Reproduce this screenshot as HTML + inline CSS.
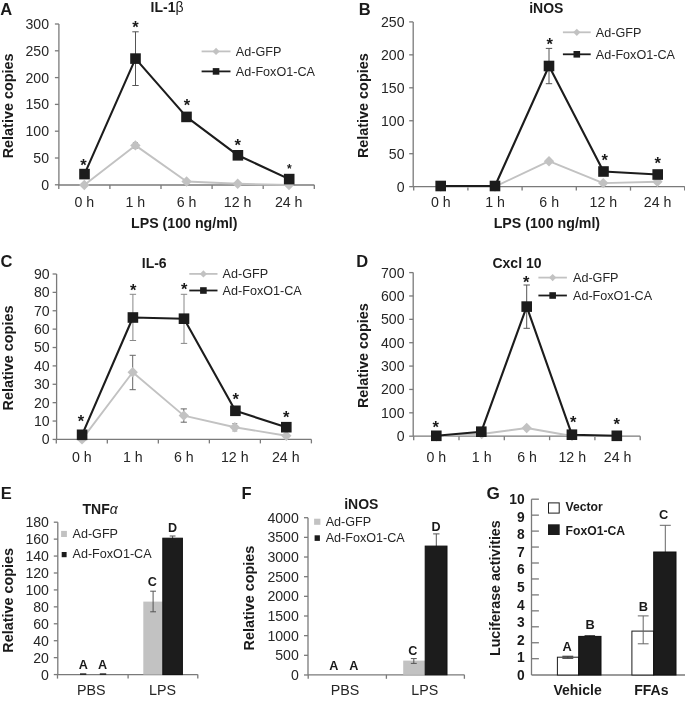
<!DOCTYPE html>
<html><head><meta charset="utf-8"><style>
html,body{margin:0;padding:0;background:#fff;}
svg{display:block;font-family:"Liberation Sans", sans-serif;will-change:transform;}
</style></head><body>
<svg width="685" height="706" viewBox="0 0 685 706">
<rect x="0" y="0" width="685" height="706" fill="#fff"/>
<text x="0.20" y="14.90" font-size="16.5" font-weight="bold" text-anchor="start" fill="#1a1a1a" >A</text>
<line x1="58.90" y1="24.00" x2="58.90" y2="185.00" stroke="#7a7a7a" stroke-width="1.3" />
<line x1="54.90" y1="24.00" x2="58.90" y2="24.00" stroke="#7a7a7a" stroke-width="1.3" />
<line x1="54.90" y1="50.80" x2="58.90" y2="50.80" stroke="#7a7a7a" stroke-width="1.3" />
<line x1="54.90" y1="77.60" x2="58.90" y2="77.60" stroke="#7a7a7a" stroke-width="1.3" />
<line x1="54.90" y1="104.40" x2="58.90" y2="104.40" stroke="#7a7a7a" stroke-width="1.3" />
<line x1="54.90" y1="131.20" x2="58.90" y2="131.20" stroke="#7a7a7a" stroke-width="1.3" />
<line x1="54.90" y1="158.00" x2="58.90" y2="158.00" stroke="#7a7a7a" stroke-width="1.3" />
<line x1="54.90" y1="184.80" x2="58.90" y2="184.80" stroke="#7a7a7a" stroke-width="1.3" />
<line x1="58.90" y1="185.00" x2="314.40" y2="185.00" stroke="#7a7a7a" stroke-width="1.3" />
<line x1="58.80" y1="185.00" x2="58.80" y2="189.00" stroke="#7a7a7a" stroke-width="1.3" />
<line x1="109.90" y1="185.00" x2="109.90" y2="189.00" stroke="#7a7a7a" stroke-width="1.3" />
<line x1="161.00" y1="185.00" x2="161.00" y2="189.00" stroke="#7a7a7a" stroke-width="1.3" />
<line x1="212.10" y1="185.00" x2="212.10" y2="189.00" stroke="#7a7a7a" stroke-width="1.3" />
<line x1="263.20" y1="185.00" x2="263.20" y2="189.00" stroke="#7a7a7a" stroke-width="1.3" />
<line x1="314.30" y1="185.00" x2="314.30" y2="189.00" stroke="#7a7a7a" stroke-width="1.3" />
<text x="49.00" y="28.96" font-size="14.1" font-weight="normal" text-anchor="end" fill="#262626" >300</text>
<text x="49.00" y="55.76" font-size="14.1" font-weight="normal" text-anchor="end" fill="#262626" >250</text>
<text x="49.00" y="82.56" font-size="14.1" font-weight="normal" text-anchor="end" fill="#262626" >200</text>
<text x="49.00" y="109.36" font-size="14.1" font-weight="normal" text-anchor="end" fill="#262626" >150</text>
<text x="49.00" y="136.16" font-size="14.1" font-weight="normal" text-anchor="end" fill="#262626" >100</text>
<text x="49.00" y="162.96" font-size="14.1" font-weight="normal" text-anchor="end" fill="#262626" >50</text>
<text x="49.00" y="189.76" font-size="14.1" font-weight="normal" text-anchor="end" fill="#262626" >0</text>
<text x="84.30" y="207.00" font-size="14.2" font-weight="normal" text-anchor="middle" fill="#262626" >0 h</text>
<text x="135.40" y="207.00" font-size="14.2" font-weight="normal" text-anchor="middle" fill="#262626" >1 h</text>
<text x="186.50" y="207.00" font-size="14.2" font-weight="normal" text-anchor="middle" fill="#262626" >6 h</text>
<text x="237.60" y="207.00" font-size="14.2" font-weight="normal" text-anchor="middle" fill="#262626" >12 h</text>
<text x="288.70" y="207.00" font-size="14.2" font-weight="normal" text-anchor="middle" fill="#262626" >24 h</text>
<text x="184.30" y="228.00" font-size="14.2" font-weight="bold" text-anchor="middle" fill="#1a1a1a" >LPS (100 ng/ml)</text>
<text x="167.10" y="12.30" font-size="14" font-weight="bold" text-anchor="middle" fill="#1a1a1a" >IL-1<tspan font-weight="normal">β</tspan></text>
<text x="0" y="0" font-size="14.4" font-weight="bold" text-anchor="middle" fill="#1a1a1a" transform="translate(13.20,105.90) rotate(-90)">Relative copies</text>
<path d="M84.30 185.00 L135.40 145.40 L186.60 181.50 L237.70 183.80 L289.00 185.00" fill="none" stroke="#c2c2c2" stroke-width="1.9" stroke-linejoin="round"/>
<line x1="135.40" y1="142.50" x2="135.40" y2="148.30" stroke="#999" stroke-width="1" />
<line x1="132.90" y1="142.50" x2="137.90" y2="142.50" stroke="#999" stroke-width="1" />
<line x1="132.90" y1="148.30" x2="137.90" y2="148.30" stroke="#999" stroke-width="1" />
<path d="M84.30 179.80 L89.50 185.00 L84.30 190.20 L79.10 185.00Z" fill="#c2c2c2"/>
<path d="M135.40 140.20 L140.60 145.40 L135.40 150.60 L130.20 145.40Z" fill="#c2c2c2"/>
<path d="M186.60 176.30 L191.80 181.50 L186.60 186.70 L181.40 181.50Z" fill="#c2c2c2"/>
<path d="M237.70 178.60 L242.90 183.80 L237.70 189.00 L232.50 183.80Z" fill="#c2c2c2"/>
<path d="M289.00 179.80 L294.20 185.00 L289.00 190.20 L283.80 185.00Z" fill="#c2c2c2"/>
<line x1="135.50" y1="31.80" x2="135.50" y2="85.50" stroke="#555555" stroke-width="1" />
<line x1="132.30" y1="31.80" x2="138.70" y2="31.80" stroke="#555555" stroke-width="1" />
<line x1="132.30" y1="85.50" x2="138.70" y2="85.50" stroke="#555555" stroke-width="1" />
<line x1="186.50" y1="113.60" x2="186.50" y2="120.20" stroke="#555555" stroke-width="1" />
<line x1="183.75" y1="113.60" x2="189.25" y2="113.60" stroke="#555555" stroke-width="1" />
<line x1="183.75" y1="120.20" x2="189.25" y2="120.20" stroke="#555555" stroke-width="1" />
<path d="M84.50 174.10 L135.50 58.60 L186.50 116.90 L237.90 155.30 L289.20 179.10" fill="none" stroke="#1c1c1c" stroke-width="2.1" stroke-linejoin="round"/>
<rect x="79.20" y="168.80" width="10.60" height="10.60" fill="#1c1c1c" />
<rect x="130.20" y="53.30" width="10.60" height="10.60" fill="#1c1c1c" />
<rect x="181.20" y="111.60" width="10.60" height="10.60" fill="#1c1c1c" />
<rect x="232.60" y="150.00" width="10.60" height="10.60" fill="#1c1c1c" />
<rect x="283.90" y="173.80" width="10.60" height="10.60" fill="#1c1c1c" />
<text x="83.50" y="171.25" font-size="16.5" font-weight="bold" text-anchor="middle" fill="#1a1a1a" >*</text>
<text x="135.50" y="33.15" font-size="16.5" font-weight="bold" text-anchor="middle" fill="#1a1a1a" >*</text>
<text x="187.00" y="111.35" font-size="16.5" font-weight="bold" text-anchor="middle" fill="#1a1a1a" >*</text>
<text x="237.70" y="150.85" font-size="16.5" font-weight="bold" text-anchor="middle" fill="#1a1a1a" >*</text>
<text x="289.30" y="173.40" font-size="12" font-weight="bold" text-anchor="middle" fill="#1a1a1a" >*</text>
<line x1="201.60" y1="51.40" x2="230.50" y2="51.40" stroke="#c2c2c2" stroke-width="1.8" />
<path d="M216.05 47.80 L219.65 51.40 L216.05 55.00 L212.45 51.40Z" fill="#c2c2c2"/>
<text x="235.80" y="55.80" font-size="12.6" font-weight="normal" text-anchor="start" fill="#262626" >Ad-GFP</text>
<line x1="201.60" y1="71.40" x2="230.50" y2="71.40" stroke="#1c1c1c" stroke-width="1.8" />
<rect x="212.75" y="68.10" width="6.60" height="6.60" fill="#1c1c1c" />
<text x="235.80" y="75.80" font-size="12.6" font-weight="normal" text-anchor="start" fill="#262626" >Ad-FoxO1-CA</text>
<text x="358.80" y="14.90" font-size="16.5" font-weight="bold" text-anchor="start" fill="#1a1a1a" >B</text>
<line x1="413.20" y1="21.90" x2="413.20" y2="186.60" stroke="#7a7a7a" stroke-width="1.3" />
<line x1="409.20" y1="21.90" x2="413.20" y2="21.90" stroke="#7a7a7a" stroke-width="1.3" />
<line x1="409.20" y1="54.85" x2="413.20" y2="54.85" stroke="#7a7a7a" stroke-width="1.3" />
<line x1="409.20" y1="87.80" x2="413.20" y2="87.80" stroke="#7a7a7a" stroke-width="1.3" />
<line x1="409.20" y1="120.75" x2="413.20" y2="120.75" stroke="#7a7a7a" stroke-width="1.3" />
<line x1="409.20" y1="153.70" x2="413.20" y2="153.70" stroke="#7a7a7a" stroke-width="1.3" />
<line x1="409.20" y1="186.65" x2="413.20" y2="186.65" stroke="#7a7a7a" stroke-width="1.3" />
<line x1="413.20" y1="186.60" x2="684.70" y2="186.60" stroke="#7a7a7a" stroke-width="1.3" />
<line x1="413.70" y1="186.60" x2="413.70" y2="190.60" stroke="#7a7a7a" stroke-width="1.3" />
<line x1="467.90" y1="186.60" x2="467.90" y2="190.60" stroke="#7a7a7a" stroke-width="1.3" />
<line x1="522.10" y1="186.60" x2="522.10" y2="190.60" stroke="#7a7a7a" stroke-width="1.3" />
<line x1="576.30" y1="186.60" x2="576.30" y2="190.60" stroke="#7a7a7a" stroke-width="1.3" />
<line x1="630.50" y1="186.60" x2="630.50" y2="190.60" stroke="#7a7a7a" stroke-width="1.3" />
<line x1="684.70" y1="186.60" x2="684.70" y2="190.60" stroke="#7a7a7a" stroke-width="1.3" />
<text x="404.50" y="26.86" font-size="14.1" font-weight="normal" text-anchor="end" fill="#262626" >250</text>
<text x="404.50" y="59.81" font-size="14.1" font-weight="normal" text-anchor="end" fill="#262626" >200</text>
<text x="404.50" y="92.76" font-size="14.1" font-weight="normal" text-anchor="end" fill="#262626" >150</text>
<text x="404.50" y="125.71" font-size="14.1" font-weight="normal" text-anchor="end" fill="#262626" >100</text>
<text x="404.50" y="158.66" font-size="14.1" font-weight="normal" text-anchor="end" fill="#262626" >50</text>
<text x="404.50" y="191.61" font-size="14.1" font-weight="normal" text-anchor="end" fill="#262626" >0</text>
<text x="440.80" y="207.00" font-size="14.2" font-weight="normal" text-anchor="middle" fill="#262626" >0 h</text>
<text x="495.00" y="207.00" font-size="14.2" font-weight="normal" text-anchor="middle" fill="#262626" >1 h</text>
<text x="549.20" y="207.00" font-size="14.2" font-weight="normal" text-anchor="middle" fill="#262626" >6 h</text>
<text x="603.40" y="207.00" font-size="14.2" font-weight="normal" text-anchor="middle" fill="#262626" >12 h</text>
<text x="657.60" y="207.00" font-size="14.2" font-weight="normal" text-anchor="middle" fill="#262626" >24 h</text>
<text x="546.90" y="228.00" font-size="14.2" font-weight="bold" text-anchor="middle" fill="#1a1a1a" >LPS (100 ng/ml)</text>
<text x="546.30" y="12.60" font-size="14" font-weight="bold" text-anchor="middle" fill="#1a1a1a" >iNOS</text>
<text x="0" y="0" font-size="14.4" font-weight="bold" text-anchor="middle" fill="#1a1a1a" transform="translate(367.60,105.70) rotate(-90)">Relative copies</text>
<path d="M440.80 186.60 L495.00 186.60 L549.00 161.20 L603.20 183.10 L657.40 181.70" fill="none" stroke="#c2c2c2" stroke-width="1.9" stroke-linejoin="round"/>
<path d="M440.80 181.40 L446.00 186.60 L440.80 191.80 L435.60 186.60Z" fill="#c2c2c2"/>
<path d="M495.00 181.40 L500.20 186.60 L495.00 191.80 L489.80 186.60Z" fill="#c2c2c2"/>
<path d="M549.00 156.00 L554.20 161.20 L549.00 166.40 L543.80 161.20Z" fill="#c2c2c2"/>
<path d="M603.20 177.90 L608.40 183.10 L603.20 188.30 L598.00 183.10Z" fill="#c2c2c2"/>
<path d="M657.40 176.50 L662.60 181.70 L657.40 186.90 L652.20 181.70Z" fill="#c2c2c2"/>
<line x1="549.00" y1="48.40" x2="549.00" y2="83.70" stroke="#555555" stroke-width="1" />
<line x1="545.80" y1="48.40" x2="552.20" y2="48.40" stroke="#555555" stroke-width="1" />
<line x1="545.80" y1="83.70" x2="552.20" y2="83.70" stroke="#555555" stroke-width="1" />
<path d="M440.70 186.00 L495.00 186.00 L549.00 66.00 L603.50 171.50 L657.70 174.50" fill="none" stroke="#1c1c1c" stroke-width="2.1" stroke-linejoin="round"/>
<rect x="435.40" y="180.70" width="10.60" height="10.60" fill="#1c1c1c" />
<rect x="489.70" y="180.70" width="10.60" height="10.60" fill="#1c1c1c" />
<rect x="543.70" y="60.70" width="10.60" height="10.60" fill="#1c1c1c" />
<rect x="598.20" y="166.20" width="10.60" height="10.60" fill="#1c1c1c" />
<rect x="652.40" y="169.20" width="10.60" height="10.60" fill="#1c1c1c" />
<text x="549.60" y="49.65" font-size="16.5" font-weight="bold" text-anchor="middle" fill="#1a1a1a" >*</text>
<text x="604.70" y="166.05" font-size="16.5" font-weight="bold" text-anchor="middle" fill="#1a1a1a" >*</text>
<text x="657.80" y="169.45" font-size="16.5" font-weight="bold" text-anchor="middle" fill="#1a1a1a" >*</text>
<line x1="562.90" y1="32.30" x2="590.70" y2="32.30" stroke="#c2c2c2" stroke-width="1.8" />
<path d="M576.80 28.70 L580.40 32.30 L576.80 35.90 L573.20 32.30Z" fill="#c2c2c2"/>
<text x="595.80" y="36.70" font-size="12.6" font-weight="normal" text-anchor="start" fill="#262626" >Ad-GFP</text>
<line x1="562.90" y1="54.30" x2="590.70" y2="54.30" stroke="#1c1c1c" stroke-width="1.8" />
<rect x="573.50" y="51.00" width="6.60" height="6.60" fill="#1c1c1c" />
<text x="595.80" y="58.70" font-size="12.6" font-weight="normal" text-anchor="start" fill="#262626" >Ad-FoxO1-CA</text>
<text x="0.50" y="266.60" font-size="16.5" font-weight="bold" text-anchor="start" fill="#1a1a1a" >C</text>
<line x1="56.60" y1="274.00" x2="56.60" y2="439.40" stroke="#7a7a7a" stroke-width="1.3" />
<line x1="52.60" y1="274.00" x2="56.60" y2="274.00" stroke="#7a7a7a" stroke-width="1.3" />
<line x1="52.60" y1="292.38" x2="56.60" y2="292.38" stroke="#7a7a7a" stroke-width="1.3" />
<line x1="52.60" y1="310.76" x2="56.60" y2="310.76" stroke="#7a7a7a" stroke-width="1.3" />
<line x1="52.60" y1="329.14" x2="56.60" y2="329.14" stroke="#7a7a7a" stroke-width="1.3" />
<line x1="52.60" y1="347.52" x2="56.60" y2="347.52" stroke="#7a7a7a" stroke-width="1.3" />
<line x1="52.60" y1="365.90" x2="56.60" y2="365.90" stroke="#7a7a7a" stroke-width="1.3" />
<line x1="52.60" y1="384.28" x2="56.60" y2="384.28" stroke="#7a7a7a" stroke-width="1.3" />
<line x1="52.60" y1="402.66" x2="56.60" y2="402.66" stroke="#7a7a7a" stroke-width="1.3" />
<line x1="52.60" y1="421.04" x2="56.60" y2="421.04" stroke="#7a7a7a" stroke-width="1.3" />
<line x1="52.60" y1="439.42" x2="56.60" y2="439.42" stroke="#7a7a7a" stroke-width="1.3" />
<line x1="56.30" y1="439.40" x2="311.40" y2="439.40" stroke="#7a7a7a" stroke-width="1.3" />
<line x1="56.30" y1="439.40" x2="56.30" y2="443.40" stroke="#7a7a7a" stroke-width="1.3" />
<line x1="107.32" y1="439.40" x2="107.32" y2="443.40" stroke="#7a7a7a" stroke-width="1.3" />
<line x1="158.34" y1="439.40" x2="158.34" y2="443.40" stroke="#7a7a7a" stroke-width="1.3" />
<line x1="209.36" y1="439.40" x2="209.36" y2="443.40" stroke="#7a7a7a" stroke-width="1.3" />
<line x1="260.38" y1="439.40" x2="260.38" y2="443.40" stroke="#7a7a7a" stroke-width="1.3" />
<line x1="311.40" y1="439.40" x2="311.40" y2="443.40" stroke="#7a7a7a" stroke-width="1.3" />
<text x="49.60" y="278.96" font-size="14.1" font-weight="normal" text-anchor="end" fill="#262626" >90</text>
<text x="49.60" y="297.34" font-size="14.1" font-weight="normal" text-anchor="end" fill="#262626" >80</text>
<text x="49.60" y="315.72" font-size="14.1" font-weight="normal" text-anchor="end" fill="#262626" >70</text>
<text x="49.60" y="334.10" font-size="14.1" font-weight="normal" text-anchor="end" fill="#262626" >60</text>
<text x="49.60" y="352.48" font-size="14.1" font-weight="normal" text-anchor="end" fill="#262626" >50</text>
<text x="49.60" y="370.86" font-size="14.1" font-weight="normal" text-anchor="end" fill="#262626" >40</text>
<text x="49.60" y="389.24" font-size="14.1" font-weight="normal" text-anchor="end" fill="#262626" >30</text>
<text x="49.60" y="407.62" font-size="14.1" font-weight="normal" text-anchor="end" fill="#262626" >20</text>
<text x="49.60" y="426.00" font-size="14.1" font-weight="normal" text-anchor="end" fill="#262626" >10</text>
<text x="49.60" y="444.38" font-size="14.1" font-weight="normal" text-anchor="end" fill="#262626" >0</text>
<text x="81.80" y="462.20" font-size="14.2" font-weight="normal" text-anchor="middle" fill="#262626" >0 h</text>
<text x="132.80" y="462.20" font-size="14.2" font-weight="normal" text-anchor="middle" fill="#262626" >1 h</text>
<text x="183.80" y="462.20" font-size="14.2" font-weight="normal" text-anchor="middle" fill="#262626" >6 h</text>
<text x="234.80" y="462.20" font-size="14.2" font-weight="normal" text-anchor="middle" fill="#262626" >12 h</text>
<text x="285.80" y="462.20" font-size="14.2" font-weight="normal" text-anchor="middle" fill="#262626" >24 h</text>
<text x="154.20" y="267.80" font-size="14" font-weight="bold" text-anchor="middle" fill="#1a1a1a" >IL-6</text>
<text x="0" y="0" font-size="14.4" font-weight="bold" text-anchor="middle" fill="#1a1a1a" transform="translate(13.30,358.00) rotate(-90)">Relative copies</text>
<line x1="132.70" y1="355.30" x2="132.70" y2="389.70" stroke="#666" stroke-width="1" />
<line x1="129.60" y1="355.30" x2="135.80" y2="355.30" stroke="#666" stroke-width="1" />
<line x1="129.60" y1="389.70" x2="135.80" y2="389.70" stroke="#666" stroke-width="1" />
<line x1="183.80" y1="408.90" x2="183.80" y2="422.20" stroke="#666" stroke-width="1" />
<line x1="180.70" y1="408.90" x2="186.90" y2="408.90" stroke="#666" stroke-width="1" />
<line x1="180.70" y1="422.20" x2="186.90" y2="422.20" stroke="#666" stroke-width="1" />
<line x1="234.80" y1="423.50" x2="234.80" y2="431.00" stroke="#999" stroke-width="1" />
<line x1="232.30" y1="423.50" x2="237.30" y2="423.50" stroke="#999" stroke-width="1" />
<line x1="232.30" y1="431.00" x2="237.30" y2="431.00" stroke="#999" stroke-width="1" />
<path d="M82.00 439.40 L132.70 372.30 L183.80 415.60 L234.80 427.20 L286.30 435.80" fill="none" stroke="#c2c2c2" stroke-width="1.9" stroke-linejoin="round"/>
<path d="M82.00 434.20 L87.20 439.40 L82.00 444.60 L76.80 439.40Z" fill="#c2c2c2"/>
<path d="M132.70 367.10 L137.90 372.30 L132.70 377.50 L127.50 372.30Z" fill="#c2c2c2"/>
<path d="M183.80 410.40 L189.00 415.60 L183.80 420.80 L178.60 415.60Z" fill="#c2c2c2"/>
<path d="M234.80 422.00 L240.00 427.20 L234.80 432.40 L229.60 427.20Z" fill="#c2c2c2"/>
<path d="M286.30 430.60 L291.50 435.80 L286.30 441.00 L281.10 435.80Z" fill="#c2c2c2"/>
<line x1="132.90" y1="294.30" x2="132.90" y2="340.50" stroke="#888" stroke-width="1" />
<line x1="129.70" y1="294.30" x2="136.10" y2="294.30" stroke="#888" stroke-width="1" />
<line x1="129.70" y1="340.50" x2="136.10" y2="340.50" stroke="#888" stroke-width="1" />
<line x1="184.00" y1="294.30" x2="184.00" y2="343.40" stroke="#888" stroke-width="1" />
<line x1="180.80" y1="294.30" x2="187.20" y2="294.30" stroke="#888" stroke-width="1" />
<line x1="180.80" y1="343.40" x2="187.20" y2="343.40" stroke="#888" stroke-width="1" />
<path d="M82.10 434.80 L132.90 317.50 L184.00 318.70 L235.40 410.80 L286.30 427.20" fill="none" stroke="#1c1c1c" stroke-width="2.1" stroke-linejoin="round"/>
<rect x="76.80" y="429.50" width="10.60" height="10.60" fill="#1c1c1c" />
<rect x="127.60" y="312.20" width="10.60" height="10.60" fill="#1c1c1c" />
<rect x="178.70" y="313.40" width="10.60" height="10.60" fill="#1c1c1c" />
<rect x="230.10" y="405.50" width="10.60" height="10.60" fill="#1c1c1c" />
<rect x="281.00" y="421.90" width="10.60" height="10.60" fill="#1c1c1c" />
<text x="80.90" y="427.05" font-size="16.5" font-weight="bold" text-anchor="middle" fill="#1a1a1a" >*</text>
<text x="133.30" y="295.65" font-size="16.5" font-weight="bold" text-anchor="middle" fill="#1a1a1a" >*</text>
<text x="184.20" y="295.05" font-size="16.5" font-weight="bold" text-anchor="middle" fill="#1a1a1a" >*</text>
<text x="235.70" y="405.05" font-size="16.5" font-weight="bold" text-anchor="middle" fill="#1a1a1a" >*</text>
<text x="286.30" y="422.55" font-size="16.5" font-weight="bold" text-anchor="middle" fill="#1a1a1a" >*</text>
<line x1="189.30" y1="273.90" x2="217.50" y2="273.90" stroke="#c2c2c2" stroke-width="1.8" />
<path d="M203.40 270.30 L207.00 273.90 L203.40 277.50 L199.80 273.90Z" fill="#c2c2c2"/>
<text x="222.60" y="278.30" font-size="12.6" font-weight="normal" text-anchor="start" fill="#262626" >Ad-GFP</text>
<line x1="189.30" y1="290.50" x2="217.50" y2="290.50" stroke="#1c1c1c" stroke-width="1.8" />
<rect x="200.10" y="287.20" width="6.60" height="6.60" fill="#1c1c1c" />
<text x="222.60" y="294.90" font-size="12.6" font-weight="normal" text-anchor="start" fill="#262626" >Ad-FoxO1-CA</text>
<text x="356.20" y="266.50" font-size="16.5" font-weight="bold" text-anchor="start" fill="#1a1a1a" >D</text>
<line x1="413.20" y1="272.60" x2="413.20" y2="436.20" stroke="#7a7a7a" stroke-width="1.3" />
<line x1="409.20" y1="272.60" x2="413.20" y2="272.60" stroke="#7a7a7a" stroke-width="1.3" />
<line x1="409.20" y1="295.97" x2="413.20" y2="295.97" stroke="#7a7a7a" stroke-width="1.3" />
<line x1="409.20" y1="319.34" x2="413.20" y2="319.34" stroke="#7a7a7a" stroke-width="1.3" />
<line x1="409.20" y1="342.71" x2="413.20" y2="342.71" stroke="#7a7a7a" stroke-width="1.3" />
<line x1="409.20" y1="366.08" x2="413.20" y2="366.08" stroke="#7a7a7a" stroke-width="1.3" />
<line x1="409.20" y1="389.45" x2="413.20" y2="389.45" stroke="#7a7a7a" stroke-width="1.3" />
<line x1="409.20" y1="412.82" x2="413.20" y2="412.82" stroke="#7a7a7a" stroke-width="1.3" />
<line x1="409.20" y1="436.19" x2="413.20" y2="436.19" stroke="#7a7a7a" stroke-width="1.3" />
<line x1="413.20" y1="436.20" x2="640.20" y2="436.20" stroke="#7a7a7a" stroke-width="1.3" />
<line x1="413.70" y1="436.20" x2="413.70" y2="440.20" stroke="#7a7a7a" stroke-width="1.3" />
<line x1="459.00" y1="436.20" x2="459.00" y2="440.20" stroke="#7a7a7a" stroke-width="1.3" />
<line x1="504.30" y1="436.20" x2="504.30" y2="440.20" stroke="#7a7a7a" stroke-width="1.3" />
<line x1="549.60" y1="436.20" x2="549.60" y2="440.20" stroke="#7a7a7a" stroke-width="1.3" />
<line x1="594.90" y1="436.20" x2="594.90" y2="440.20" stroke="#7a7a7a" stroke-width="1.3" />
<line x1="640.20" y1="436.20" x2="640.20" y2="440.20" stroke="#7a7a7a" stroke-width="1.3" />
<text x="404.50" y="277.56" font-size="14.1" font-weight="normal" text-anchor="end" fill="#262626" >700</text>
<text x="404.50" y="300.93" font-size="14.1" font-weight="normal" text-anchor="end" fill="#262626" >600</text>
<text x="404.50" y="324.30" font-size="14.1" font-weight="normal" text-anchor="end" fill="#262626" >500</text>
<text x="404.50" y="347.67" font-size="14.1" font-weight="normal" text-anchor="end" fill="#262626" >400</text>
<text x="404.50" y="371.04" font-size="14.1" font-weight="normal" text-anchor="end" fill="#262626" >300</text>
<text x="404.50" y="394.41" font-size="14.1" font-weight="normal" text-anchor="end" fill="#262626" >200</text>
<text x="404.50" y="417.78" font-size="14.1" font-weight="normal" text-anchor="end" fill="#262626" >100</text>
<text x="404.50" y="441.15" font-size="14.1" font-weight="normal" text-anchor="end" fill="#262626" >0</text>
<text x="436.40" y="462.20" font-size="14.2" font-weight="normal" text-anchor="middle" fill="#262626" >0 h</text>
<text x="481.70" y="462.20" font-size="14.2" font-weight="normal" text-anchor="middle" fill="#262626" >1 h</text>
<text x="527.00" y="462.20" font-size="14.2" font-weight="normal" text-anchor="middle" fill="#262626" >6 h</text>
<text x="572.30" y="462.20" font-size="14.2" font-weight="normal" text-anchor="middle" fill="#262626" >12 h</text>
<text x="617.60" y="462.20" font-size="14.2" font-weight="normal" text-anchor="middle" fill="#262626" >24 h</text>
<text x="517.00" y="268.00" font-size="14" font-weight="bold" text-anchor="middle" fill="#1a1a1a" >Cxcl 10</text>
<text x="0" y="0" font-size="14.4" font-weight="bold" text-anchor="middle" fill="#1a1a1a" transform="translate(367.60,355.70) rotate(-90)">Relative copies</text>
<path d="M436.40 436.20 L481.70 434.00 L526.70 428.00 L572.00 436.00 L617.00 436.00" fill="none" stroke="#c2c2c2" stroke-width="1.9" stroke-linejoin="round"/>
<path d="M436.40 431.00 L441.60 436.20 L436.40 441.40 L431.20 436.20Z" fill="#c2c2c2"/>
<path d="M481.70 428.80 L486.90 434.00 L481.70 439.20 L476.50 434.00Z" fill="#c2c2c2"/>
<path d="M526.70 422.80 L531.90 428.00 L526.70 433.20 L521.50 428.00Z" fill="#c2c2c2"/>
<path d="M572.00 430.80 L577.20 436.00 L572.00 441.20 L566.80 436.00Z" fill="#c2c2c2"/>
<path d="M617.00 430.80 L622.20 436.00 L617.00 441.20 L611.80 436.00Z" fill="#c2c2c2"/>
<line x1="526.70" y1="285.00" x2="526.70" y2="328.30" stroke="#555555" stroke-width="1" />
<line x1="523.50" y1="285.00" x2="529.90" y2="285.00" stroke="#555555" stroke-width="1" />
<line x1="523.50" y1="328.30" x2="529.90" y2="328.30" stroke="#555555" stroke-width="1" />
<path d="M436.30 435.80 L481.30 431.70 L526.70 306.60 L571.90 434.70 L616.80 435.80" fill="none" stroke="#1c1c1c" stroke-width="2.1" stroke-linejoin="round"/>
<rect x="431.00" y="430.50" width="10.60" height="10.60" fill="#1c1c1c" />
<rect x="476.00" y="426.40" width="10.60" height="10.60" fill="#1c1c1c" />
<rect x="521.40" y="301.30" width="10.60" height="10.60" fill="#1c1c1c" />
<rect x="566.60" y="429.40" width="10.60" height="10.60" fill="#1c1c1c" />
<rect x="611.50" y="430.50" width="10.60" height="10.60" fill="#1c1c1c" />
<text x="435.80" y="432.75" font-size="16.5" font-weight="bold" text-anchor="middle" fill="#1a1a1a" >*</text>
<text x="526.30" y="287.95" font-size="16.5" font-weight="bold" text-anchor="middle" fill="#1a1a1a" >*</text>
<text x="573.10" y="428.05" font-size="16.5" font-weight="bold" text-anchor="middle" fill="#1a1a1a" >*</text>
<text x="616.60" y="430.25" font-size="16.5" font-weight="bold" text-anchor="middle" fill="#1a1a1a" >*</text>
<line x1="538.40" y1="277.60" x2="566.90" y2="277.60" stroke="#c2c2c2" stroke-width="1.8" />
<path d="M552.65 274.00 L556.25 277.60 L552.65 281.20 L549.05 277.60Z" fill="#c2c2c2"/>
<text x="573.00" y="282.00" font-size="12.6" font-weight="normal" text-anchor="start" fill="#262626" >Ad-GFP</text>
<line x1="538.40" y1="295.50" x2="566.90" y2="295.50" stroke="#1c1c1c" stroke-width="1.8" />
<rect x="549.35" y="292.20" width="6.60" height="6.60" fill="#1c1c1c" />
<text x="573.00" y="299.90" font-size="12.6" font-weight="normal" text-anchor="start" fill="#262626" >Ad-FoxO1-CA</text>
<text x="0.80" y="498.80" font-size="16.5" font-weight="bold" text-anchor="start" fill="#1a1a1a" >E</text>
<line x1="57.80" y1="522.20" x2="57.80" y2="674.60" stroke="#7a7a7a" stroke-width="1.3" />
<line x1="53.80" y1="522.20" x2="57.80" y2="522.20" stroke="#7a7a7a" stroke-width="1.3" />
<line x1="53.80" y1="539.13" x2="57.80" y2="539.13" stroke="#7a7a7a" stroke-width="1.3" />
<line x1="53.80" y1="556.06" x2="57.80" y2="556.06" stroke="#7a7a7a" stroke-width="1.3" />
<line x1="53.80" y1="572.99" x2="57.80" y2="572.99" stroke="#7a7a7a" stroke-width="1.3" />
<line x1="53.80" y1="589.92" x2="57.80" y2="589.92" stroke="#7a7a7a" stroke-width="1.3" />
<line x1="53.80" y1="606.85" x2="57.80" y2="606.85" stroke="#7a7a7a" stroke-width="1.3" />
<line x1="53.80" y1="623.78" x2="57.80" y2="623.78" stroke="#7a7a7a" stroke-width="1.3" />
<line x1="53.80" y1="640.71" x2="57.80" y2="640.71" stroke="#7a7a7a" stroke-width="1.3" />
<line x1="53.80" y1="657.64" x2="57.80" y2="657.64" stroke="#7a7a7a" stroke-width="1.3" />
<line x1="53.80" y1="674.57" x2="57.80" y2="674.57" stroke="#7a7a7a" stroke-width="1.3" />
<line x1="57.50" y1="674.60" x2="197.80" y2="674.60" stroke="#7a7a7a" stroke-width="1.3" />
<line x1="57.50" y1="674.60" x2="57.50" y2="678.60" stroke="#7a7a7a" stroke-width="1.3" />
<line x1="128.10" y1="674.60" x2="128.10" y2="678.60" stroke="#7a7a7a" stroke-width="1.3" />
<line x1="197.80" y1="674.60" x2="197.80" y2="678.60" stroke="#7a7a7a" stroke-width="1.3" />
<text x="48.90" y="527.16" font-size="14.1" font-weight="normal" text-anchor="end" fill="#262626" >180</text>
<text x="48.90" y="544.09" font-size="14.1" font-weight="normal" text-anchor="end" fill="#262626" >160</text>
<text x="48.90" y="561.02" font-size="14.1" font-weight="normal" text-anchor="end" fill="#262626" >140</text>
<text x="48.90" y="577.95" font-size="14.1" font-weight="normal" text-anchor="end" fill="#262626" >120</text>
<text x="48.90" y="594.88" font-size="14.1" font-weight="normal" text-anchor="end" fill="#262626" >100</text>
<text x="48.90" y="611.81" font-size="14.1" font-weight="normal" text-anchor="end" fill="#262626" >80</text>
<text x="48.90" y="628.74" font-size="14.1" font-weight="normal" text-anchor="end" fill="#262626" >60</text>
<text x="48.90" y="645.67" font-size="14.1" font-weight="normal" text-anchor="end" fill="#262626" >40</text>
<text x="48.90" y="662.60" font-size="14.1" font-weight="normal" text-anchor="end" fill="#262626" >20</text>
<text x="48.90" y="679.53" font-size="14.1" font-weight="normal" text-anchor="end" fill="#262626" >0</text>
<text x="91.20" y="695.40" font-size="14.3" font-weight="normal" text-anchor="middle" fill="#262626" >PBS</text>
<text x="162.60" y="695.40" font-size="14.3" font-weight="normal" text-anchor="middle" fill="#262626" >LPS</text>
<text x="100.10" y="514.30" font-size="14" font-weight="bold" text-anchor="middle" fill="#1a1a1a" >TNF<tspan font-style="italic" font-weight="normal">α</tspan></text>
<text x="0" y="0" font-size="14.4" font-weight="bold" text-anchor="middle" fill="#1a1a1a" transform="translate(12.80,600.30) rotate(-90)">Relative copies</text>
<rect x="61.10" y="530.90" width="5.80" height="6.10" fill="#c2c2c2" />
<text x="72.50" y="538.40" font-size="12.6" font-weight="normal" text-anchor="start" fill="#262626" >Ad-GFP</text>
<rect x="61.70" y="552.00" width="4.90" height="5.20" fill="#1c1c1c" />
<text x="72.50" y="558.40" font-size="12.6" font-weight="normal" text-anchor="start" fill="#262626" >Ad-FoxO1-CA</text>
<rect x="143.30" y="601.60" width="19.50" height="73.00" fill="#c2c2c2" />
<line x1="172.60" y1="536.00" x2="172.60" y2="541.00" stroke="#555" stroke-width="1" />
<line x1="169.70" y1="536.00" x2="175.50" y2="536.00" stroke="#555" stroke-width="1" />
<line x1="169.70" y1="541.00" x2="175.50" y2="541.00" stroke="#555" stroke-width="1" />
<rect x="162.80" y="538.20" width="19.60" height="136.40" fill="#1c1c1c" stroke="#0f0f0f" stroke-width="1"/>
<line x1="153.10" y1="591.20" x2="153.10" y2="611.80" stroke="#555555" stroke-width="1" />
<line x1="150.20" y1="591.20" x2="156.00" y2="591.20" stroke="#555555" stroke-width="1" />
<line x1="150.20" y1="611.80" x2="156.00" y2="611.80" stroke="#555555" stroke-width="1" />
<line x1="80.00" y1="674.10" x2="86.30" y2="674.10" stroke="#1c1c1c" stroke-width="1.5" />
<line x1="99.80" y1="674.10" x2="106.20" y2="674.10" stroke="#1c1c1c" stroke-width="1.5" />
<text x="83.20" y="669.20" font-size="12.6" font-weight="bold" text-anchor="middle" fill="#1a1a1a" >A</text>
<text x="102.60" y="669.20" font-size="12.6" font-weight="bold" text-anchor="middle" fill="#1a1a1a" >A</text>
<text x="152.20" y="585.80" font-size="12.6" font-weight="bold" text-anchor="middle" fill="#1a1a1a" >C</text>
<text x="172.60" y="531.80" font-size="12.6" font-weight="bold" text-anchor="middle" fill="#1a1a1a" >D</text>
<text x="241.60" y="499.00" font-size="16.5" font-weight="bold" text-anchor="start" fill="#1a1a1a" >F</text>
<line x1="308.00" y1="517.70" x2="308.00" y2="674.80" stroke="#7a7a7a" stroke-width="1.3" />
<line x1="304.00" y1="517.70" x2="308.00" y2="517.70" stroke="#7a7a7a" stroke-width="1.3" />
<line x1="304.00" y1="537.36" x2="308.00" y2="537.36" stroke="#7a7a7a" stroke-width="1.3" />
<line x1="304.00" y1="557.02" x2="308.00" y2="557.02" stroke="#7a7a7a" stroke-width="1.3" />
<line x1="304.00" y1="576.68" x2="308.00" y2="576.68" stroke="#7a7a7a" stroke-width="1.3" />
<line x1="304.00" y1="596.34" x2="308.00" y2="596.34" stroke="#7a7a7a" stroke-width="1.3" />
<line x1="304.00" y1="616.00" x2="308.00" y2="616.00" stroke="#7a7a7a" stroke-width="1.3" />
<line x1="304.00" y1="635.66" x2="308.00" y2="635.66" stroke="#7a7a7a" stroke-width="1.3" />
<line x1="304.00" y1="655.32" x2="308.00" y2="655.32" stroke="#7a7a7a" stroke-width="1.3" />
<line x1="304.00" y1="674.98" x2="308.00" y2="674.98" stroke="#7a7a7a" stroke-width="1.3" />
<line x1="308.00" y1="674.80" x2="464.40" y2="674.80" stroke="#7a7a7a" stroke-width="1.3" />
<line x1="308.20" y1="674.80" x2="308.20" y2="678.80" stroke="#7a7a7a" stroke-width="1.3" />
<line x1="386.40" y1="674.80" x2="386.40" y2="678.80" stroke="#7a7a7a" stroke-width="1.3" />
<line x1="464.40" y1="674.80" x2="464.40" y2="678.80" stroke="#7a7a7a" stroke-width="1.3" />
<text x="298.80" y="522.66" font-size="14.1" font-weight="normal" text-anchor="end" fill="#262626" >4000</text>
<text x="298.80" y="542.32" font-size="14.1" font-weight="normal" text-anchor="end" fill="#262626" >3500</text>
<text x="298.80" y="561.98" font-size="14.1" font-weight="normal" text-anchor="end" fill="#262626" >3000</text>
<text x="298.80" y="581.64" font-size="14.1" font-weight="normal" text-anchor="end" fill="#262626" >2500</text>
<text x="298.80" y="601.30" font-size="14.1" font-weight="normal" text-anchor="end" fill="#262626" >2000</text>
<text x="298.80" y="620.96" font-size="14.1" font-weight="normal" text-anchor="end" fill="#262626" >1500</text>
<text x="298.80" y="640.62" font-size="14.1" font-weight="normal" text-anchor="end" fill="#262626" >1000</text>
<text x="298.80" y="660.28" font-size="14.1" font-weight="normal" text-anchor="end" fill="#262626" >500</text>
<text x="298.80" y="679.94" font-size="14.1" font-weight="normal" text-anchor="end" fill="#262626" >0</text>
<text x="345.00" y="695.40" font-size="14.3" font-weight="normal" text-anchor="middle" fill="#262626" >PBS</text>
<text x="424.80" y="695.40" font-size="14.3" font-weight="normal" text-anchor="middle" fill="#262626" >LPS</text>
<text x="361.30" y="508.70" font-size="14" font-weight="bold" text-anchor="middle" fill="#1a1a1a" >iNOS</text>
<text x="0" y="0" font-size="14.4" font-weight="bold" text-anchor="middle" fill="#1a1a1a" transform="translate(253.50,598.10) rotate(-90)">Relative copies</text>
<rect x="314.10" y="518.70" width="6.30" height="6.10" fill="#c2c2c2" />
<text x="325.70" y="525.70" font-size="12.6" font-weight="normal" text-anchor="start" fill="#262626" >Ad-GFP</text>
<rect x="314.60" y="535.30" width="5.30" height="5.60" fill="#1c1c1c" />
<text x="325.70" y="542.00" font-size="12.6" font-weight="normal" text-anchor="start" fill="#262626" >Ad-FoxO1-CA</text>
<rect x="403.20" y="660.60" width="22.00" height="14.20" fill="#c2c2c2" />
<line x1="436.30" y1="533.90" x2="436.30" y2="550.00" stroke="#555555" stroke-width="1" />
<line x1="433.10" y1="533.90" x2="439.50" y2="533.90" stroke="#555555" stroke-width="1" />
<line x1="433.10" y1="550.00" x2="439.50" y2="550.00" stroke="#555555" stroke-width="1" />
<rect x="425.20" y="546.10" width="21.80" height="128.70" fill="#1c1c1c" stroke="#0f0f0f" stroke-width="1"/>
<line x1="413.80" y1="658.60" x2="413.80" y2="663.40" stroke="#555555" stroke-width="1" />
<line x1="410.85" y1="658.60" x2="416.75" y2="658.60" stroke="#555555" stroke-width="1" />
<line x1="410.85" y1="663.40" x2="416.75" y2="663.40" stroke="#555555" stroke-width="1" />
<text x="333.90" y="670.40" font-size="12.6" font-weight="bold" text-anchor="middle" fill="#1a1a1a" >A</text>
<text x="353.70" y="670.40" font-size="12.6" font-weight="bold" text-anchor="middle" fill="#1a1a1a" >A</text>
<text x="412.80" y="655.20" font-size="12.6" font-weight="bold" text-anchor="middle" fill="#1a1a1a" >C</text>
<text x="436.10" y="530.80" font-size="12.6" font-weight="bold" text-anchor="middle" fill="#1a1a1a" >D</text>
<text x="486.40" y="499.10" font-size="17.2" font-weight="bold" text-anchor="start" fill="#1a1a1a" >G</text>
<line x1="531.50" y1="499.20" x2="531.50" y2="675.00" stroke="#7a7a7a" stroke-width="1.3" />
<line x1="531.50" y1="499.20" x2="538.90" y2="499.20" stroke="#7a7a7a" stroke-width="1.3" />
<line x1="531.50" y1="515.15" x2="538.90" y2="515.15" stroke="#7a7a7a" stroke-width="1.3" />
<line x1="531.50" y1="531.10" x2="538.90" y2="531.10" stroke="#7a7a7a" stroke-width="1.3" />
<line x1="531.50" y1="547.05" x2="538.90" y2="547.05" stroke="#7a7a7a" stroke-width="1.3" />
<line x1="531.50" y1="563.00" x2="538.90" y2="563.00" stroke="#7a7a7a" stroke-width="1.3" />
<line x1="531.50" y1="578.95" x2="538.90" y2="578.95" stroke="#7a7a7a" stroke-width="1.3" />
<line x1="531.50" y1="594.90" x2="538.90" y2="594.90" stroke="#7a7a7a" stroke-width="1.3" />
<line x1="531.50" y1="610.85" x2="538.90" y2="610.85" stroke="#7a7a7a" stroke-width="1.3" />
<line x1="531.50" y1="626.80" x2="538.90" y2="626.80" stroke="#7a7a7a" stroke-width="1.3" />
<line x1="531.50" y1="642.75" x2="538.90" y2="642.75" stroke="#7a7a7a" stroke-width="1.3" />
<line x1="531.50" y1="658.70" x2="538.90" y2="658.70" stroke="#7a7a7a" stroke-width="1.3" />
<line x1="531.50" y1="675.00" x2="685.00" y2="675.00" stroke="#7a7a7a" stroke-width="1.3" />
<text x="524.60" y="679.66" font-size="13.8" font-weight="bold" text-anchor="end" fill="#1a1a1a" >0</text>
<text x="524.60" y="662.13" font-size="13.8" font-weight="bold" text-anchor="end" fill="#1a1a1a" >1</text>
<text x="524.60" y="644.60" font-size="13.8" font-weight="bold" text-anchor="end" fill="#1a1a1a" >2</text>
<text x="524.60" y="627.07" font-size="13.8" font-weight="bold" text-anchor="end" fill="#1a1a1a" >3</text>
<text x="524.60" y="609.54" font-size="13.8" font-weight="bold" text-anchor="end" fill="#1a1a1a" >4</text>
<text x="524.60" y="592.01" font-size="13.8" font-weight="bold" text-anchor="end" fill="#1a1a1a" >5</text>
<text x="524.60" y="574.48" font-size="13.8" font-weight="bold" text-anchor="end" fill="#1a1a1a" >6</text>
<text x="524.60" y="556.95" font-size="13.8" font-weight="bold" text-anchor="end" fill="#1a1a1a" >7</text>
<text x="524.60" y="539.42" font-size="13.8" font-weight="bold" text-anchor="end" fill="#1a1a1a" >8</text>
<text x="524.60" y="521.89" font-size="13.8" font-weight="bold" text-anchor="end" fill="#1a1a1a" >9</text>
<text x="524.60" y="504.36" font-size="13.8" font-weight="bold" text-anchor="end" fill="#1a1a1a" >10</text>
<text x="0" y="0" font-size="14.2" font-weight="bold" text-anchor="middle" fill="#1a1a1a" transform="translate(500.00,588.20) rotate(-90)">Luciferase activities</text>
<rect x="548.50" y="502.90" width="10.70" height="10.20" fill="#fff" stroke="#1c1c1c" stroke-width="1"/>
<text x="565.50" y="511.20" font-size="12.2" font-weight="bold" text-anchor="start" fill="#1a1a1a" >Vector</text>
<rect x="548.00" y="524.30" width="11.70" height="10.70" fill="#1c1c1c" />
<text x="565.50" y="534.50" font-size="12.2" font-weight="bold" text-anchor="start" fill="#1a1a1a" >FoxO1-CA</text>
<rect x="557.40" y="657.20" width="21.30" height="17.80" fill="#fff" stroke="#1c1c1c" stroke-width="1"/>
<line x1="589.80" y1="635.60" x2="589.80" y2="638.40" stroke="#444" stroke-width="1" />
<line x1="584.55" y1="635.60" x2="595.05" y2="635.60" stroke="#444" stroke-width="1" />
<line x1="584.55" y1="638.40" x2="595.05" y2="638.40" stroke="#444" stroke-width="1" />
<rect x="578.70" y="636.40" width="22.30" height="38.60" fill="#1c1c1c" stroke="#0f0f0f" stroke-width="1"/>
<rect x="631.90" y="631.10" width="21.80" height="43.90" fill="#fff" stroke="#1c1c1c" stroke-width="1"/>
<line x1="665.30" y1="525.30" x2="665.30" y2="560.00" stroke="#666" stroke-width="1" />
<line x1="659.80" y1="525.30" x2="670.80" y2="525.30" stroke="#666" stroke-width="1" />
<line x1="659.80" y1="560.00" x2="670.80" y2="560.00" stroke="#666" stroke-width="1" />
<rect x="653.70" y="552.00" width="22.30" height="123.00" fill="#1c1c1c" stroke="#0f0f0f" stroke-width="1"/>
<line x1="567.80" y1="656.30" x2="567.80" y2="658.30" stroke="#444" stroke-width="1.2" />
<line x1="562.35" y1="656.30" x2="573.25" y2="656.30" stroke="#444" stroke-width="1.2" />
<line x1="562.35" y1="658.30" x2="573.25" y2="658.30" stroke="#444" stroke-width="1.2" />
<line x1="643.20" y1="615.90" x2="643.20" y2="643.80" stroke="#666" stroke-width="1" />
<line x1="637.80" y1="615.90" x2="648.60" y2="615.90" stroke="#666" stroke-width="1" />
<line x1="637.80" y1="643.80" x2="648.60" y2="643.80" stroke="#666" stroke-width="1" />
<text x="567.20" y="651.40" font-size="12.8" font-weight="bold" text-anchor="middle" fill="#1a1a1a" >A</text>
<text x="590.00" y="629.00" font-size="12.8" font-weight="bold" text-anchor="middle" fill="#1a1a1a" >B</text>
<text x="643.30" y="610.60" font-size="12.8" font-weight="bold" text-anchor="middle" fill="#1a1a1a" >B</text>
<text x="663.50" y="519.40" font-size="12.8" font-weight="bold" text-anchor="middle" fill="#1a1a1a" >C</text>
<text x="577.60" y="695.30" font-size="14" font-weight="bold" text-anchor="middle" fill="#1a1a1a" >Vehicle</text>
<text x="651.40" y="695.30" font-size="14" font-weight="bold" text-anchor="middle" fill="#1a1a1a" >FFAs</text>
</svg>
</body></html>
